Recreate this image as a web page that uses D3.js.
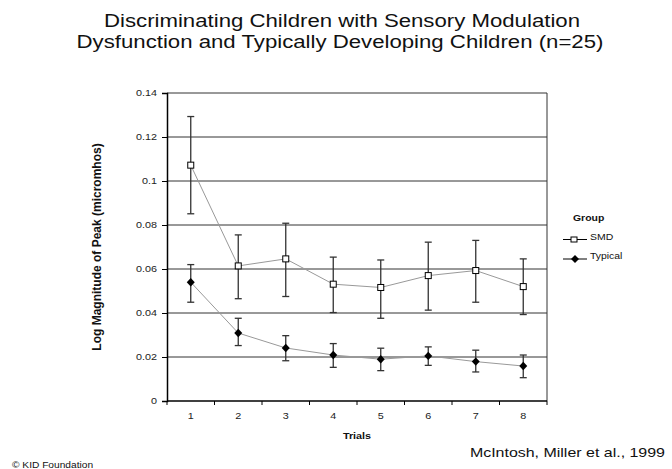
<!DOCTYPE html>
<html><head><meta charset="utf-8">
<script src="https://cdn.jsdelivr.net/npm/d3@7/dist/d3.min.js"></script>
<style>body{margin:0;background:#fff}svg{display:block}text{font-family:"Liberation Sans",Arial,sans-serif}</style>
</head><body><svg id="c" width="672" height="469"></svg>
<script>
const trials = ["1","2","3","4","5","6","7","8"];
const smdMean = [0.1072,0.0614,0.0646,0.0531,0.0516,0.0570,0.0593,0.0520];
const smdHigh = [0.1293,0.0755,0.0808,0.0654,0.0641,0.0722,0.0730,0.0646];
const smdLow  = [0.0851,0.0465,0.0475,0.0402,0.0376,0.0413,0.0449,0.0393];
const typMean = [0.0540,0.0309,0.0241,0.0209,0.0190,0.0205,0.0179,0.0159];
const typHigh = [0.0620,0.0376,0.0297,0.0261,0.0240,0.0246,0.0231,0.0209];
const typLow  = [0.0449,0.0252,0.0183,0.0153,0.0138,0.0162,0.0132,0.0106];
const yTicks = [0,0.02,0.04,0.06,0.08,0.1,0.12,0.14];
const yTickLabels = ["0","0.02","0.04","0.06","0.08","0.1","0.12","0.14"];

const SX = 1.2; // horizontal stretch of text seen in the reference
const svg = d3.select("#c");
const L=167, R=547, T=93, B=401;
const x = d3.scaleBand().domain(trials).range([L,R]);
const y = d3.scaleLinear().domain([0,0.14]).range([B,T]);

function txt(px,py,s,size,opts={}){
  const t = svg.append("text").attr("transform",`translate(${px},${py}) scale(${opts.sx||SX},1)`)
    .attr("font-size",size).attr("fill",opts.fill||"#111").text(s);
  if(opts.anchor) t.attr("text-anchor",opts.anchor);
  if(opts.bold) t.attr("font-weight","bold");
  return t;
}

// title
txt(342,27,"Discriminating Children with Sensory Modulation",18.5,{anchor:"middle"});
txt(340,48,"Dysfunction and Typically Developing Children (n=25)",18.5,{anchor:"middle"});

// gridlines
svg.append("g").selectAll("line").data(yTicks.slice(1)).join("line")
  .attr("x1",L).attr("x2",R).attr("y1",d=>y(d)).attr("y2",d=>y(d))
  .attr("stroke","#333").attr("stroke-width",1);
svg.append("line").attr("x1",R).attr("x2",R).attr("y1",T).attr("y2",B).attr("stroke","#333");

// y axis
const ya = svg.append("g").attr("transform",`translate(${L},0)`)
  .call(d3.axisLeft(y).tickValues(yTicks).tickFormat((d,i)=>yTickLabels[i]).tickSize(5).tickPadding(0));
ya.select(".domain").attr("stroke","#000").attr("stroke-width",1.5);
ya.selectAll(".tick line").attr("stroke","#000");
ya.selectAll("text").attr("x",0).attr("transform",`translate(-10,0) scale(${SX},1)`)
  .attr("font-size",9).attr("font-family","Liberation Sans, Arial, sans-serif").attr("fill","#222");

// x axis
const xa = svg.append("g").attr("transform",`translate(0,${B})`)
  .call(d3.axisBottom(x).tickSize(0).tickPadding(0));
xa.select(".domain").remove();
xa.selectAll("text").attr("y",0).attr("dy",0).attr("transform",`translate(0,18) scale(${SX},1)`)
  .attr("font-size",9).attr("font-family","Liberation Sans, Arial, sans-serif").attr("fill","#222");
svg.append("line").attr("x1",L).attr("x2",R).attr("y1",B).attr("y2",B).attr("stroke","#000").attr("stroke-width",1.5);
const bounds = trials.map(t=>x(t)).concat([R]);
svg.append("g").selectAll("line").data(bounds).join("line")
  .attr("x1",d=>d).attr("x2",d=>d).attr("y1",B).attr("y2",B+4).attr("stroke","#000");

// axis titles
svg.append("text").attr("transform","translate(101,247) rotate(-90)").attr("text-anchor","middle")
  .attr("font-size",12).attr("font-weight","bold").attr("fill","#111").text("Log Magnitude of Peak (micromhos)");
txt(357,439,"Trials",9,{anchor:"middle",bold:true});

const cx = t=>x(t)+x.bandwidth()/2;
function series(mean,hi,lo,kind){
  const g = svg.append("g");
  g.append("path").datum(trials).attr("fill","none").attr("stroke","#999").attr("stroke-width",1)
    .attr("d",d3.line().x(t=>cx(t)).y((t,i)=>y(mean[i])));
  const eb = g.append("g").attr("stroke","#333").attr("stroke-width",1.3);
  eb.selectAll(".v").data(trials).join("line").attr("x1",cx).attr("x2",cx)
    .attr("y1",(t,i)=>y(hi[i])).attr("y2",(t,i)=>y(lo[i]));
  eb.selectAll(".h").data(trials).join("line").attr("x1",t=>cx(t)-3.5).attr("x2",t=>cx(t)+3.5)
    .attr("y1",(t,i)=>y(hi[i])).attr("y2",(t,i)=>y(hi[i]));
  eb.selectAll(".l").data(trials).join("line").attr("x1",t=>cx(t)-3.5).attr("x2",t=>cx(t)+3.5)
    .attr("y1",(t,i)=>y(lo[i])).attr("y2",(t,i)=>y(lo[i]));
  if(kind==="square"){
    g.selectAll("rect").data(trials).join("rect").attr("x",t=>cx(t)-3).attr("y",(t,i)=>y(mean[i])-3)
      .attr("width",6).attr("height",6).attr("fill","#fff").attr("stroke","#000").attr("stroke-width",1);
  } else {
    g.selectAll("path.m").data(trials).join("path").attr("class","m")
      .attr("d",(t,i)=>{const a=cx(t),b=y(mean[i]);return `M${a},${b-4.2}L${a+4},${b}L${a},${b+4.2}L${a-4},${b}Z`;})
      .attr("fill","#000");
  }
}
series(smdMean,smdHigh,smdLow,"square");
series(typMean,typHigh,typLow,"diamond");

// legend
txt(573,221,"Group",8.7,{bold:true});
const lg = svg.append("g");
lg.append("line").attr("x1",563).attr("x2",587).attr("y1",239.5).attr("y2",239.5).attr("stroke","#000");
lg.append("rect").attr("x",571).attr("y",237).attr("width",6).attr("height",5).attr("fill","#fff").attr("stroke","#000");
txt(590,240,"SMD",8.7);
lg.append("line").attr("x1",563).attr("x2",587).attr("y1",259).attr("y2",259).attr("stroke","#000");
lg.append("path").attr("d","M575,255L579,259L575,263L571,259Z").attr("fill","#000");
txt(590,259,"Typical",8.7);

// credits
txt(665,457,"McIntosh, Miller et al., 1999",13.3,{anchor:"end"});
txt(12,468,"© KID Foundation",8.5);
</script></body></html>
